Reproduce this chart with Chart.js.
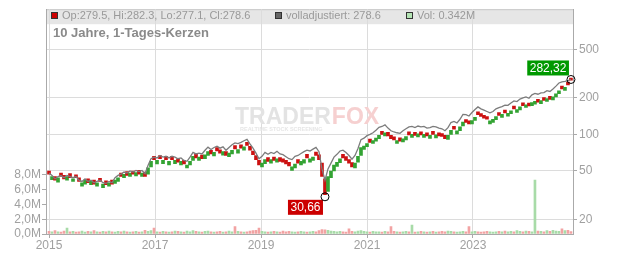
<!DOCTYPE html>
<html><head><meta charset="utf-8">
<script src="https://cdn.jsdelivr.net/npm/chart.js@4.4.1/dist/chart.umd.min.js"></script>
<style>html,body{margin:0;padding:0;background:#fff}#wrap{width:632px;height:253px}</style>
</head><body><div id="wrap"><canvas id="c" width="632" height="253"></canvas></div>
<script>
// ---- data ----
const START_YEAR = 2015.0;
const STEP_YEARS = 0.0566;           // one candle every ~3 weeks
const yearTicks = [2015, 2017, 2019, 2021, 2023];
const priceTicks = [20, 50, 100, 200, 500];
const volumeTicks = [0, 2, 4, 6, 8];

const open = [
 50,42.5,45,40.5,48,46,42,47.5,41,46.5,
 44,37.5,39,43,38.5,42,37.5,43.5,36.5,41.5,
 37.5,42,39.5,41,48,44,49.5,45,50,45.5,
 50.5,45,49,47,54,66,57,67,57.5,66,
 56,66,57.5,63,56,61,53,56,61,69,
 61,67.5,63,67,74,66.5,78,74.5,67.5,72,
 65.5,69,81,70,82,74,86,79.5,73,67,
 61,54,57.5,64.5,58,65,59,64.5,63,61,
 59,50.5,53,62,56,58,68.5,59,61,71.5,
 68,58,43,34,44,50,54.5,58.5,68.5,65.5,
 62,58.5,53,59,67,75,79,91.5,84,88,
 92,106,97,104,98,95.5,84,93.5,86.5,90,
 105,94.5,104,95,105,94.5,103,92.5,106,93.5,
 103,101.5,98,91,100,116.5,101,107,117,132,
 129,122,130,153,148,143.5,140,122,125.5,132,
 151,138,158,141,147.5,171,151.5,159,181.5,166,
 180.5,172,177,194,179,200.5,186,205,192,203,
 216,249,230,269,279.5
];
const close = [
 47,45,42,44,45,43,45,44,43,44,
 41,40,42,40,41,39,40,41,39,38.5,
 40,39,42,44,45,47,46,48,47,48.5,
 47,48,45,53,60,62,61,63,61,62,
 60,62,61,59,60,57,56,60,66,64,
 65,63,68,72,69,71,73,70,72,67,
 70,74,76,75,77,79,81,74,68,62,
 56,58,62,60,62,61,63,60,59,57,
 55,54,57,58,60,62,64,63,65,67,
 62,45,32,45,50,56,59,63,64,61,
 58,54,58,66,78,80,84,86,89,93,
 98,100,103,97,92,90,89,88,92,96,
 99,100,98,101,99,100,97,98,100,99,
 97,96,92,98,108,110,107,115,126,125,
 122,130,138,145,140,136,133,129,133,140,
 143,146,150,149,156,162,160,168,172,175,
 171,182,187,184,189,190,197,194,203,215,
 228,236,243,255,278.6
];
const adjusted = [
 48,46,43,45,46,44,46,45,44,45,
 42,41,43,41,42,40,41,42,40,39.5,
 41,40,44,46,47,49,48,50,49,50.5,
 49.5,50.5,47.5,55.5,63,65,64,67,65,66,
 64,66,65,63,64,61,60,65,71,69,
 70,69,74,78.5,75,78,80,77,79,74,
 78,82,85,84,86,88.5,91,83.5,77,70,
 63,66,71,68.5,71,69.5,72.5,69,68,65.5,
 63,62,66,67,69.5,72,74,73,75.5,78,
 72,52,42,52,58,65,68.5,73,74,71,
 67,62.5,67,76.5,90.5,93,97.5,100,103,108,
 114,116,119.5,112.5,107,104.5,103,102,107,111,
 115,116,113.5,117,115,116,112.5,113.5,116,115,
 112.5,111,107,113.5,125,127.5,124,133,146,145,
 141.5,151,160,168,162,158,154,150,154,162,
 166,169,174,173,181,188,186,195,199.5,203,
 198,211,217,213.5,219,220,228.5,225,235.5,249,
 264,270,272,276,282.32
];
const volume = [
 0.35,0.3,0.45,0.3,0.25,0.4,0.8,0.3,0.35,0.25,
 0.3,0.4,0.25,0.35,0.3,0.45,0.3,0.25,0.35,0.3,
 0.4,0.3,0.25,0.35,0.3,0.4,0.3,0.25,0.3,0.35,
 0.25,0.3,0.5,0.35,0.45,0.8,0.3,0.25,0.35,0.3,
 0.25,0.3,0.4,0.35,0.3,0.25,0.4,0.3,0.45,0.35,
 0.3,0.25,0.35,0.4,0.3,0.25,0.3,0.35,0.25,0.3,
 0.4,0.3,1.0,0.35,0.3,0.25,0.3,0.4,0.45,0.5,
 0.8,0.35,0.3,0.25,0.3,0.35,0.3,0.25,0.4,0.3,
 0.35,0.3,0.25,0.3,0.35,0.3,0.25,0.3,0.35,0.3,
 0.45,0.6,0.55,0.5,0.4,0.35,0.3,0.35,0.3,0.25,
 0.7,0.35,0.3,0.4,0.45,0.35,0.3,0.25,0.35,0.3,
 0.3,0.25,0.35,0.3,1.0,0.35,0.3,0.25,0.3,0.35,
 0.3,1.2,0.25,0.3,0.35,0.3,0.25,0.3,0.35,0.25,
 0.3,0.35,0.3,0.4,0.35,0.3,0.25,0.3,0.35,0.3,
 1.0,0.3,0.35,0.3,0.25,0.3,0.35,0.3,0.25,0.3,
 0.35,0.3,0.4,0.3,0.35,0.3,0.45,0.35,0.3,0.4,
 0.35,0.3,7.3,0.4,0.35,0.3,0.45,0.35,0.5,0.4,
 0.35,0.7,0.45,0.5,0.342
];
const lowMark = { index: 92, value: 30.66, label: '30,66' };
const lastMark = { index: 174, value: 282.32, label: '282,32' };
const legendItems = [
  { text: 'Op:279.5, Hi:282.3, Lo:277.1, Cl:278.6', color: '#cc0000' },
  { text: 'volladjustiert: 278.6', color: '#666666' },
  { text: 'Vol: 0.342M', color: '#b4e4b4' }
];
const subtitle = '10 Jahre, 1-Tages-Kerzen';

// ---- derived structures ----
const xs = close.map((_, i) => START_YEAR + i * STEP_YEARS);
const up = close.map((c, i) => c >= open[i]);
const candleData = close.map((c, i) => ({ x: xs[i], y: [open[i], c] }));
const adjData = adjusted.map((v, i) => ({ x: xs[i], y: v }));
const volData = volume.map((v, i) => ({ x: xs[i], y: v }));

const FONT = 'Liberation Sans, Arial, sans-serif';
const TICK_COLOR = '#a0a0a0';

const deco = {
  id: 'deco',
  beforeDraw(chart) {
    const { ctx, chartArea: a } = chart;
    ctx.save();
    ctx.fillStyle = '#e6e6e6';
    ctx.fillRect(a.left, a.top, a.right - a.left, 15);
    ctx.strokeStyle = '#c8c8c8';
    ctx.lineWidth = 1;
    ctx.beginPath(); ctx.moveTo(a.left, a.top + 0.5); ctx.lineTo(a.right, a.top + 0.5); ctx.stroke();
    ctx.restore();
  },
  beforeDatasetsDraw(chart) {
    const { ctx } = chart;
    ctx.save();
    ctx.font = 'bold 23px ' + FONT;
    ctx.textBaseline = 'alphabetic';
    ctx.fillStyle = '#e3e3e3';
    ctx.fillText('TRADER', 235, 124);
    const w = ctx.measureText('TRADER').width;
    ctx.fillStyle = '#f6d0d0';
    ctx.fillText('FOX', 236 + w, 124);
    ctx.font = 'bold 5.5px ' + FONT;
    ctx.fillStyle = '#e6e6e6';
    ctx.fillText('REALTIME STOCK SCREENING', 240, 131);
    ctx.restore();
  },
  afterDraw(chart) {
    const { ctx } = chart;
    const sx = chart.scales.x, sy = chart.scales.y;
    ctx.save();
    ctx.font = '11px ' + FONT;
    ctx.textBaseline = 'middle';
    const lx = [51, 275, 406];
    legendItems.forEach((it, k) => {
      ctx.fillStyle = it.color;
      ctx.fillRect(lx[k], 12, 6, 6);
      ctx.strokeStyle = '#333';
      ctx.lineWidth = 1;
      ctx.strokeRect(lx[k] + 0.5, 12.5, 6, 6);
      ctx.fillStyle = '#999';
      ctx.fillText(it.text, lx[k] + 11, 16);
    });
    ctx.font = 'bold 13px ' + FONT;
    ctx.fillStyle = '#8a8a8a';
    ctx.fillText(subtitle, 53, 33);
    function mark(m, bg, above) {
      const cx = sx.getPixelForValue(xs[m.index]);
      const cy = sy.getPixelForValue(m.value);
      ctx.font = '12px ' + FONT;
      const tw = ctx.measureText(m.label).width;
      const bw = tw + 5, bh = 15;
      const bx = cx - 2 - bw;
      const by = above ? cy - 4 - bh : cy + 3;
      ctx.fillStyle = bg;
      ctx.fillRect(bx, by, bw, bh);
      ctx.fillStyle = '#fff';
      ctx.textAlign = 'center';
      ctx.fillText(m.label, bx + bw / 2, by + bh / 2 + 0.5);
      ctx.textAlign = 'left';
      ctx.beginPath();
      ctx.arc(cx, cy, 4, 0, Math.PI * 2);
      ctx.strokeStyle = '#000';
      ctx.lineWidth = 1;
      ctx.stroke();
    }
    mark(lowMark, '#cc0000', false);
    mark(lastMark, '#009900', true);
    ctx.restore();
  }
};

new Chart(document.getElementById('c'), {
  type: 'bar',
  data: {
    datasets: [
      {
        type: 'line', data: adjData, yAxisID: 'y', borderColor: '#7c7c7c', borderWidth: 1.3,
        pointRadius: 0, tension: 0, order: 1
      },
      {
        type: 'bar', data: candleData, yAxisID: 'y', grouped: false, barThickness: 3,
        minBarLength: 2,
        backgroundColor: up.map(u => u ? '#33a333' : '#cc1111'), order: 2
      },
      {
        type: 'bar', data: volData, yAxisID: 'yv', grouped: false, barThickness: 2,
        backgroundColor: up.map(u => u ? '#a8dba8' : '#f2a3a3'), order: 3
      }
    ]
  },
  options: {
    responsive: false, animation: false, devicePixelRatio: 1,
    layout: { padding: { top: 8, left: 0, right: 0, bottom: 0 } },
    plugins: { legend: { display: false }, tooltip: { enabled: false } },
    scales: {
      x: {
        type: 'linear', position: 'bottom', min: 2014.943, max: 2024.887, offset: false,
        afterBuildTicks: s => { s.ticks = yearTicks.map(v => ({ value: v })); },
        afterFit: s => { s.height = 19; },
        ticks: { callback: v => String(v), color: TICK_COLOR, font: { family: FONT, size: 12 }, padding: 0, maxRotation: 0, autoSkip: false },
        grid: { offset: false, color: '#dcdcdc', tickLength: 4, tickColor: '#aaa' },
        border: { color: '#aaa' }
      },
      y: {
        type: 'logarithmic', position: 'right', min: 15.17, max: 1067,
        afterBuildTicks: s => { s.ticks = priceTicks.map(v => ({ value: v })); },
        afterFit: s => { s.width = 59; },
        ticks: { callback: v => String(v), color: TICK_COLOR, font: { family: FONT, size: 12 }, padding: 2, autoSkip: false },
        grid: { color: '#dcdcdc', tickLength: 4, tickColor: '#aaa' },
        border: { color: '#aaa' }
      },
      yv: {
        type: 'linear', position: 'left', min: 0, max: 30.4,
        afterBuildTicks: s => { s.ticks = volumeTicks.map(v => ({ value: v })); },
        afterFit: s => { s.width = 46; },
        ticks: { callback: v => v.toFixed(1).replace('.', ',') + 'M', color: TICK_COLOR, font: { family: FONT, size: 12 }, padding: 1, autoSkip: false },
        grid: { drawOnChartArea: false, tickLength: 4, color: '#aaa' },
        border: { color: '#aaa' }
      }
    }
  },
  plugins: [deco]
});
</script></body></html>
